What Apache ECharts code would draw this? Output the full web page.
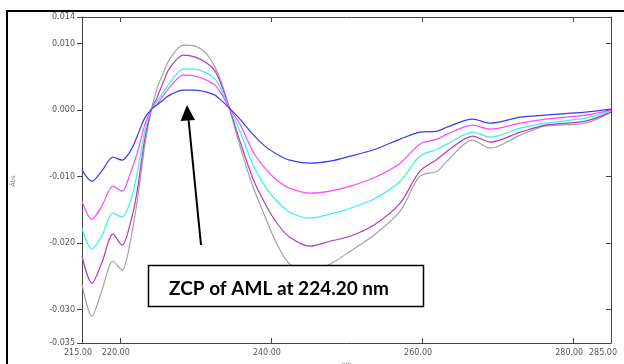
<!DOCTYPE html>
<html>
<head>
<meta charset="utf-8">
<script src="https://cdn.jsdelivr.net/npm/echarts@6/dist/echarts.min.js"></script>
<style>
html,body{margin:0;padding:0;background:#fff;}
#chart{width:624px;height:364px;}
</style>
</head>
<body>
<div id="chart"></div>
<script>
// wavelengths (nm)
var wavelengths = [215, 216.3, 217.6, 219.1, 220.3, 221.4, 222.3, 223.3, 224.2, 224.9, 225.7, 226.6, 228.4, 230.0, 231.5, 232.6, 233.4, 234.5, 235.9, 237.6, 239.2, 240.8, 242.5, 245.2, 247.8, 250.5, 253.8, 257.1, 259.7, 262.0, 263.3, 266.7, 269.0, 273.0, 276.3, 281.6, 285];

var blueVals = [-0.00902,-0.01068,-0.00917,-0.00707,-0.00752,-0.00617,-0.00391,-0.00120,0.00015,0.00075,0.00150,0.00226,0.00301,0.00301,0.00271,0.00226,0.00150,0.00030,-0.00135,-0.00361,-0.00541,-0.00662,-0.00752,-0.00797,-0.00767,-0.00692,-0.00587,-0.00436,-0.00331,-0.00316,-0.00256,-0.00135,-0.00196,-0.00105,-0.00075,-0.00030,0.00015];
var magentaVals = [-0.01369,-0.01639,-0.01444,-0.01143,-0.01218,-0.00948,-0.00647,-0.00226,0.00015,0.00090,0.00211,0.00346,0.00526,0.00511,0.00451,0.00376,0.00256,0.00030,-0.00211,-0.00617,-0.00872,-0.01053,-0.01173,-0.01248,-0.01218,-0.01143,-0.01008,-0.00797,-0.00511,-0.00436,-0.00361,-0.00226,-0.00286,-0.00196,-0.00135,-0.00075,0];
var cyanVals = [-0.01775,-0.02091,-0.01895,-0.01549,-0.01609,-0.01369,-0.00948,-0.00316,0.00015,0.00135,0.00256,0.00406,0.00617,0.00617,0.00556,0.00466,0.00316,0.00030,-0.00316,-0.00812,-0.01143,-0.01369,-0.01534,-0.01624,-0.01564,-0.01474,-0.01324,-0.01068,-0.00692,-0.00587,-0.00511,-0.00331,-0.00406,-0.00271,-0.00196,-0.00120,-0.00015];
var purpleVals = [-0.02196,-0.02602,-0.02301,-0.01865,-0.02030,-0.01700,-0.01218,-0.00436,0.00015,0.00180,0.00406,0.00632,0.00827,0.00797,0.00707,0.00587,0.00391,0.00030,-0.00466,-0.01023,-0.01399,-0.01700,-0.01910,-0.02045,-0.01970,-0.01895,-0.01715,-0.01399,-0.00917,-0.00737,-0.00617,-0.00391,-0.00481,-0.00331,-0.00226,-0.00165,-0.00030];
var greyVals = [-0.02617,-0.03098,-0.02722,-0.02271,-0.02406,-0.01970,-0.01369,-0.00541,0.00015,0.00316,0.00541,0.00767,0.00978,0.00963,0.00842,0.00647,0.00436,0.00030,-0.00541,-0.01143,-0.01594,-0.02015,-0.02316,-0.02421,-0.02316,-0.02121,-0.01865,-0.01519,-0.00993,-0.00917,-0.00767,-0.00451,-0.00572,-0.00376,-0.00241,-0.00196,-0.00030];

var xTickValues = [220, 240, 260, 280];
var xLabelValues = [215, 220, 240, 260, 280, 285];
var yTickValues = [-0.035, -0.030, -0.020, -0.010, 0.000, 0.010, 0.014];

var seriesDefs = [
  {name: 'S5', data: greyVals, color: '#a2a2a2'},
  {name: 'S4', data: purpleVals, color: '#b43cb4'},
  {name: 'S3', data: cyanVals, color: '#3cf0f0'},
  {name: 'S2', data: magentaVals, color: '#ff48ff'},
  {name: 'S1', data: blueVals, color: '#3a3af2'}
];

function pairs(vals) {
  return wavelengths.map(function (w, i) { return [w, vals[i]]; });
}

var axisLineStyle = {color: '#444', width: 1};

var chart = echarts.init(document.getElementById('chart'), null, {renderer: 'canvas'});
chart.setOption({
  animation: false,
  backgroundColor: '#fff',
  grid: {left: 82, top: 17, right: 13, bottom: 21, containLabel: false, outerBoundsMode: 'none'},
  xAxis: [
    {
      type: 'value', position: 'bottom', min: 215, max: 285,
      name: 'nm', nameLocation: 'middle', nameGap: 17,
      nameTextStyle: {fontFamily: 'DejaVu Sans', fontSize: 6, color: '#777'},
      axisLine: {show: true, onZero: false, lineStyle: axisLineStyle},
      axisTick: {show: true, inside: true, length: 5, customValues: xTickValues, lineStyle: axisLineStyle},
      splitLine: {show: false},
      axisLabel: {
        show: true, margin: 6, customValues: xLabelValues,
        fontFamily: 'DejaVu Sans', fontSize: 8, color: '#555',
        padding: [0, 8, 0, 0],
        formatter: function (v) {
          if (v === 285) return '{e|' + v.toFixed(2) + '}';
          return v.toFixed(2);
        },
        rich: {e: {fontFamily: 'DejaVu Sans', fontSize: 8, color: '#555', padding: [0, 8, 0, 0]}}
      }
    },
    {
      type: 'value', position: 'top', min: 215, max: 285,
      axisLine: {show: true, onZero: false, lineStyle: axisLineStyle},
      axisTick: {show: true, inside: true, length: 5, customValues: xTickValues, lineStyle: axisLineStyle},
      axisLabel: {show: false},
      splitLine: {show: false}
    }
  ],
  yAxis: [
    {
      type: 'value', position: 'left', min: -0.035, max: 0.014,
      name: 'Abs.', nameLocation: 'middle', nameGap: 66, nameRotate: 90,
      nameTextStyle: {fontFamily: 'DejaVu Sans', fontSize: 6, color: '#777'},
      axisLine: {show: true, onZero: false, lineStyle: axisLineStyle},
      axisTick: {show: true, inside: false, length: 5, customValues: yTickValues, lineStyle: axisLineStyle},
      splitLine: {show: false},
      axisLabel: {
        show: true, margin: 7, customValues: yTickValues,
        fontFamily: 'DejaVu Sans', fontSize: 8, color: '#555',
        formatter: function (v) { return v.toFixed(3); }
      }
    },
    {
      type: 'value', position: 'right', min: -0.035, max: 0.014,
      axisLine: {show: true, onZero: false, lineStyle: axisLineStyle},
      axisTick: {show: true, inside: true, length: 5, customValues: yTickValues, lineStyle: axisLineStyle},
      axisLabel: {show: false},
      splitLine: {show: false}
    }
  ],
  series: seriesDefs.map(function (s) {
    return {
      name: s.name, type: 'line', xAxisIndex: 0, yAxisIndex: 0,
      data: pairs(s.data), smooth: 0.3, symbol: 'none',
      lineStyle: {color: s.color, width: 1.2},
      itemStyle: {color: s.color}, z: 2
    };
  }),
  graphic: [
    {type: 'rect', shape: {x: 7, y: 11, width: 640, height: 400}, style: {fill: 'none', stroke: '#000', lineWidth: 2}, z: 100, silent: true},
    {type: 'line', shape: {x1: 201, y1: 245, x2: 188.5, y2: 119}, style: {stroke: '#000', lineWidth: 2}, z: 100, silent: true},
    {type: 'polygon', shape: {points: [[187, 105], [180.5, 121], [195, 120]]}, style: {fill: '#000'}, z: 100, silent: true},
    {type: 'rect', shape: {x: 148.5, y: 265.5, width: 275, height: 41}, style: {fill: '#fff', stroke: '#000', lineWidth: 1.5}, z: 100, silent: true},
    {type: 'text', x: 279, y: 289, style: {text: 'ZCP of AML at 224.20 nm', fontFamily: 'Lato', fontWeight: 'bold', fontSize: 19, fill: '#000', align: 'center', verticalAlign: 'middle'}, z: 101, silent: true}
  ]
});
</script>
</body>
</html>
